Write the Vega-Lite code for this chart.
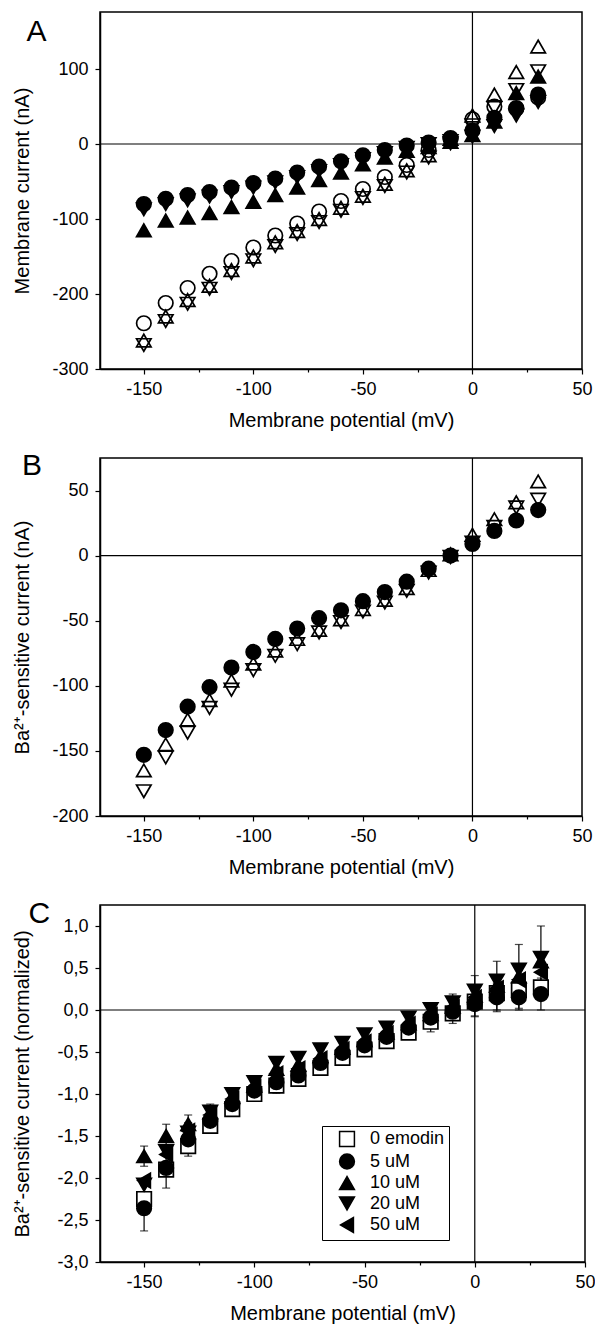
{
  "$schema": "https://vega.github.io/schema/vega-lite/v6.json",
  "padding": {"left": 12, "top": 10, "right": 0, "bottom": 0},
  "spacing": 19,
  "resolve": {"scale": {"shape": "independent", "fill": "independent"}, "legend": {"shape": "independent", "fill": "independent"}},
  "config": {
    "font": "Liberation Sans",
    "view": {"stroke": "black", "strokeWidth": 1.5},
    "axis": {"labelFontSize": 18, "titleFontSize": 20, "titleFontWeight": "normal", "labelColor": "black", "titleColor": "black", "tickColor": "black", "domainColor": "black", "domainWidth": 1.5, "tickWidth": 1.2, "grid": false},
    "axisX": {"labelPadding": 6, "titlePadding": 12, "labelFlush": false},
    "axisY": {"labelPadding": 7, "titlePadding": 19, "labelFlush": false}
  },
  "vconcat": [
    {
      "width": 482, "height": 357,
      "layer": [
        {"data": {"values": [{"y0": 0}]}, "mark": {"type": "rule", "color": "black", "strokeWidth": 1.2}, "encoding": {"y": {"field": "y0", "type": "quantitative"}}},
        {"data": {"values": [{"x0": 0}]}, "mark": {"type": "rule", "color": "black", "strokeWidth": 1.2}, "encoding": {"x": {"field": "x0", "type": "quantitative"}}},
        {"data": {"values": [{"panel": "A", "px": -199, "py": 137}]}, "mark": {"type": "text", "font": "Liberation Sans", "fontSize": 30, "fontWeight": "normal", "fill": "black", "align": "center", "baseline": "alphabetic"}, "encoding": {"x": {"field": "px", "type": "quantitative"}, "y": {"field": "py", "type": "quantitative"}, "text": {"field": "panel"}}},
        {
          "data": {"values": [
            {"V":-150,"s":"oc","I":-239},{"V":-140,"s":"oc","I":-212},{"V":-130,"s":"oc","I":-192},{"V":-120,"s":"oc","I":-173},{"V":-110,"s":"oc","I":-156},{"V":-100,"s":"oc","I":-138},{"V":-90,"s":"oc","I":-122},{"V":-80,"s":"oc","I":-106},{"V":-70,"s":"oc","I":-90},{"V":-60,"s":"oc","I":-76},{"V":-50,"s":"oc","I":-60},{"V":-40,"s":"oc","I":-44},{"V":-30,"s":"oc","I":-28},{"V":-20,"s":"oc","I":-8},{"V":-10,"s":"oc","I":8},{"V":0,"s":"oc","I":33},{"V":10,"s":"oc","I":50},{"V":20,"s":"oc","I":48},{"V":30,"s":"oc","I":62},
            {"V":-150,"s":"ou","I":-262},{"V":-140,"s":"ou","I":-230},{"V":-130,"s":"ou","I":-208},{"V":-120,"s":"ou","I":-189},{"V":-110,"s":"ou","I":-168},{"V":-100,"s":"ou","I":-150},{"V":-90,"s":"ou","I":-131},{"V":-80,"s":"ou","I":-116},{"V":-70,"s":"ou","I":-100},{"V":-60,"s":"ou","I":-85},{"V":-50,"s":"ou","I":-69},{"V":-40,"s":"ou","I":-53},{"V":-30,"s":"ou","I":-35},{"V":-20,"s":"ou","I":-15},{"V":-10,"s":"ou","I":7},{"V":0,"s":"ou","I":38},{"V":10,"s":"ou","I":66},{"V":20,"s":"ou","I":96},{"V":30,"s":"ou","I":130},
            {"V":-150,"s":"od","I":-268},{"V":-140,"s":"od","I":-236},{"V":-130,"s":"od","I":-213},{"V":-120,"s":"od","I":-193},{"V":-110,"s":"od","I":-172},{"V":-100,"s":"od","I":-155},{"V":-90,"s":"od","I":-136},{"V":-80,"s":"od","I":-120},{"V":-70,"s":"od","I":-104},{"V":-60,"s":"od","I":-89},{"V":-50,"s":"od","I":-72},{"V":-40,"s":"od","I":-56},{"V":-30,"s":"od","I":-38},{"V":-20,"s":"od","I":-18},{"V":-10,"s":"od","I":4},{"V":0,"s":"od","I":25},{"V":10,"s":"od","I":48},{"V":20,"s":"od","I":72},{"V":30,"s":"od","I":97},
            {"V":-150,"s":"fu","I":-115},{"V":-140,"s":"fu","I":-102},{"V":-130,"s":"fu","I":-98},{"V":-120,"s":"fu","I":-92},{"V":-110,"s":"fu","I":-84},{"V":-100,"s":"fu","I":-77},{"V":-90,"s":"fu","I":-68},{"V":-80,"s":"fu","I":-58},{"V":-70,"s":"fu","I":-48},{"V":-60,"s":"fu","I":-38},{"V":-50,"s":"fu","I":-27},{"V":-40,"s":"fu","I":-18},{"V":-30,"s":"fu","I":-9},{"V":-20,"s":"fu","I":-4},{"V":-10,"s":"fu","I":3},{"V":0,"s":"fu","I":12},{"V":10,"s":"fu","I":30},{"V":20,"s":"fu","I":68},{"V":30,"s":"fu","I":90},
            {"V":-150,"s":"fd","I":-87},{"V":-140,"s":"fd","I":-80},{"V":-130,"s":"fd","I":-75},{"V":-120,"s":"fd","I":-70},{"V":-110,"s":"fd","I":-64},{"V":-100,"s":"fd","I":-58},{"V":-90,"s":"fd","I":-51},{"V":-80,"s":"fd","I":-44},{"V":-70,"s":"fd","I":-36},{"V":-60,"s":"fd","I":-28},{"V":-50,"s":"fd","I":-20},{"V":-40,"s":"fd","I":-12},{"V":-30,"s":"fd","I":-5},{"V":-20,"s":"fd","I":0},{"V":-10,"s":"fd","I":1},{"V":0,"s":"fd","I":10},{"V":10,"s":"fd","I":24},{"V":20,"s":"fd","I":38},{"V":30,"s":"fd","I":56},
            {"V":-150,"s":"fc","I":-80},{"V":-140,"s":"fc","I":-73},{"V":-130,"s":"fc","I":-68},{"V":-120,"s":"fc","I":-64},{"V":-110,"s":"fc","I":-58},{"V":-100,"s":"fc","I":-52},{"V":-90,"s":"fc","I":-46},{"V":-80,"s":"fc","I":-38},{"V":-70,"s":"fc","I":-30},{"V":-60,"s":"fc","I":-23},{"V":-50,"s":"fc","I":-15},{"V":-40,"s":"fc","I":-8},{"V":-30,"s":"fc","I":-2},{"V":-20,"s":"fc","I":2},{"V":-10,"s":"fc","I":7},{"V":0,"s":"fc","I":18},{"V":10,"s":"fc","I":35},{"V":20,"s":"fc","I":47},{"V":30,"s":"fc","I":66}
          ]},
          "mark": {"type": "point", "filled": true, "size": 210, "stroke": "black", "strokeWidth": 1.7, "opacity": 1},
          "encoding": {
            "x": {"field": "V", "type": "quantitative", "title": "Membrane potential (mV)", "scale": {"domain": [-170, 50], "nice": false, "zero": false},
              "axis": {"values": [-150,-125,-100,-75,-50,-25,0,25,50], "labelExpr": "datum.value % 50 === 0 ? '' + datum.value : ''", "tickSize": {"condition": {"test": "datum.value % 50 !== 0", "value": 3}, "value": 5}}},
            "y": {"field": "I", "type": "quantitative", "title": "Membrane current (nA)", "scale": {"domain": [-300, 176], "nice": false, "zero": false},
              "axis": {"values": [-300,-275,-250,-225,-200,-175,-150,-125,-100,-75,-50,-25,0,25,50,75,100,125,150], "labelExpr": "datum.value % 50 === 0 ? '' + datum.value : ''", "tickSize": {"condition": {"test": "datum.value % 50 !== 0", "value": 3}, "value": 5}}},
            "shape": {"field": "s", "type": "nominal", "scale": {"domain": ["oc","ou","od","fc","fu","fd"], "range": ["circle","triangle-up","triangle-down","circle","triangle-up","triangle-down"]}, "legend": null},
            "fill": {"field": "s", "type": "nominal", "scale": {"domain": ["oc","ou","od","fc","fu","fd"], "range": ["transparent","transparent","transparent","black","black","black"]}, "legend": null}
          }
        }
      ]
    },
    {
      "width": 482, "height": 358,
      "layer": [
        {"data": {"values": [{"y0": 0}]}, "mark": {"type": "rule", "color": "black", "strokeWidth": 1.2}, "encoding": {"y": {"field": "y0", "type": "quantitative"}}},
        {"data": {"values": [{"x0": 0}]}, "mark": {"type": "rule", "color": "black", "strokeWidth": 1.2}, "encoding": {"x": {"field": "x0", "type": "quantitative"}}},
        {"data": {"values": [{"panel": "B", "px": -201, "py": 62}]}, "mark": {"type": "text", "font": "Liberation Sans", "fontSize": 30, "fontWeight": "normal", "fill": "black", "align": "center", "baseline": "alphabetic"}, "encoding": {"x": {"field": "px", "type": "quantitative"}, "y": {"field": "py", "type": "quantitative"}, "text": {"field": "panel"}}},
        {
          "data": {"values": [
            {"V":-150,"s":"ou","I":-165},{"V":-140,"s":"ou","I":-145},{"V":-130,"s":"ou","I":-126},{"V":-120,"s":"ou","I":-111},{"V":-110,"s":"ou","I":-96},{"V":-100,"s":"ou","I":-83},{"V":-90,"s":"ou","I":-73},{"V":-80,"s":"ou","I":-64},{"V":-70,"s":"ou","I":-57},{"V":-60,"s":"ou","I":-49},{"V":-50,"s":"ou","I":-41},{"V":-40,"s":"ou","I":-34},{"V":-30,"s":"ou","I":-25},{"V":-20,"s":"ou","I":-11},{"V":-10,"s":"ou","I":1},{"V":0,"s":"ou","I":16},{"V":10,"s":"ou","I":28},{"V":20,"s":"ou","I":41},{"V":30,"s":"ou","I":57},
            {"V":-150,"s":"od","I":-181},{"V":-140,"s":"od","I":-155},{"V":-130,"s":"od","I":-136},{"V":-120,"s":"od","I":-117},{"V":-110,"s":"od","I":-103},{"V":-100,"s":"od","I":-88},{"V":-90,"s":"od","I":-77},{"V":-80,"s":"od","I":-68},{"V":-70,"s":"od","I":-59},{"V":-60,"s":"od","I":-51},{"V":-50,"s":"od","I":-43},{"V":-40,"s":"od","I":-36},{"V":-30,"s":"od","I":-27},{"V":-20,"s":"od","I":-13},{"V":-10,"s":"od","I":-1},{"V":0,"s":"od","I":10},{"V":10,"s":"od","I":22},{"V":20,"s":"od","I":37},{"V":30,"s":"od","I":43},
            {"V":-150,"s":"fc","I":-153},{"V":-140,"s":"fc","I":-134},{"V":-130,"s":"fc","I":-116},{"V":-120,"s":"fc","I":-101},{"V":-110,"s":"fc","I":-86},{"V":-100,"s":"fc","I":-74},{"V":-90,"s":"fc","I":-64},{"V":-80,"s":"fc","I":-56},{"V":-70,"s":"fc","I":-48},{"V":-60,"s":"fc","I":-42},{"V":-50,"s":"fc","I":-35},{"V":-40,"s":"fc","I":-28},{"V":-30,"s":"fc","I":-20},{"V":-20,"s":"fc","I":-10},{"V":-10,"s":"fc","I":0},{"V":0,"s":"fc","I":9},{"V":10,"s":"fc","I":19},{"V":20,"s":"fc","I":27},{"V":30,"s":"fc","I":35}
          ]},
          "mark": {"type": "point", "filled": true, "size": 210, "stroke": "black", "strokeWidth": 1.7, "opacity": 1},
          "encoding": {
            "x": {"field": "V", "type": "quantitative", "title": "Membrane potential (mV)", "scale": {"domain": [-170, 50], "nice": false, "zero": false},
              "axis": {"values": [-150,-125,-100,-75,-50,-25,0,25,50], "labelExpr": "datum.value % 50 === 0 ? '' + datum.value : ''", "tickSize": {"condition": {"test": "datum.value % 50 !== 0", "value": 3}, "value": 5}}},
            "y": {"field": "I", "type": "quantitative", "title": "Ba²⁺-sensitive current (nA)", "scale": {"domain": [-200, 75], "nice": false, "zero": false},
              "axis": {"values": [-200,-175,-150,-125,-100,-75,-50,-25,0,25,50], "labelExpr": "datum.value % 50 === 0 ? '' + datum.value : ''", "tickSize": {"condition": {"test": "datum.value % 50 !== 0", "value": 3}, "value": 5}}},
            "shape": {"field": "s", "type": "nominal", "scale": {"domain": ["ou","od","fc"], "range": ["triangle-up","triangle-down","circle"]}, "legend": null},
            "fill": {"field": "s", "type": "nominal", "scale": {"domain": ["ou","od","fc"], "range": ["transparent","transparent","black"]}, "legend": null}
          }
        }
      ]
    },
    {
      "width": 485, "height": 357,
      "layer": [
        {"data": {"values": [{"y0": 0}]}, "mark": {"type": "rule", "color": "black", "strokeWidth": 1.2}, "encoding": {"y": {"field": "y0", "type": "quantitative"}}},
        {"data": {"values": [{"x0": 0}]}, "mark": {"type": "rule", "color": "black", "strokeWidth": 1.2}, "encoding": {"x": {"field": "x0", "type": "quantitative"}}},
        {"data": {"values": [{"panel": "C", "px": -197.5, "py": 1.04}]}, "mark": {"type": "text", "font": "Liberation Sans", "fontSize": 30, "fontWeight": "normal", "fill": "black", "align": "center", "baseline": "alphabetic"}, "encoding": {"x": {"field": "px", "type": "quantitative"}, "y": {"field": "py", "type": "quantitative"}, "text": {"field": "panel"}}},
        {
          "data": {"values": [
            {"V":-150,"c":"5 uM","I":-2.36,"sd":0.27},{"V":-140,"c":"5 uM","I":-1.88,"sd":0.24},{"V":-130,"c":"5 uM","I":-1.54,"sd":0.2},{"V":-120,"c":"5 uM","I":-1.32,"sd":0.12},{"V":-110,"c":"5 uM","I":-1.12,"sd":0.1},{"V":-100,"c":"5 uM","I":-0.96,"sd":0.12},{"V":-90,"c":"5 uM","I":-0.86,"sd":0.13},{"V":-80,"c":"5 uM","I":-0.78,"sd":0.1},{"V":-70,"c":"5 uM","I":-0.63,"sd":0.08},{"V":-60,"c":"5 uM","I":-0.51,"sd":0.08},{"V":-50,"c":"5 uM","I":-0.42,"sd":0.08},{"V":-40,"c":"5 uM","I":-0.32,"sd":0.08},{"V":-30,"c":"5 uM","I":-0.21,"sd":0.09},{"V":-20,"c":"5 uM","I":-0.09,"sd":0.17},{"V":-10,"c":"5 uM","I":-0.02,"sd":0.14},{"V":0,"c":"5 uM","I":0.07,"sd":0.15},{"V":10,"c":"5 uM","I":0.15,"sd":0.17},{"V":20,"c":"5 uM","I":0.15,"sd":0.15},{"V":30,"c":"5 uM","I":0.19,"sd":0.19},
            {"V":-150,"c":"10 uM","I":-1.74,"sd":0.12},{"V":-140,"c":"10 uM","I":-1.50,"sd":0.14},{"V":-130,"c":"10 uM","I":-1.36,"sd":0.11},{"V":-120,"c":"10 uM","I":-1.22,"sd":0.1},{"V":-110,"c":"10 uM","I":-1.03,"sd":0.08},{"V":-100,"c":"10 uM","I":-0.90,"sd":0.07},{"V":-90,"c":"10 uM","I":-0.70,"sd":0.07},{"V":-80,"c":"10 uM","I":-0.65,"sd":0.07},{"V":-70,"c":"10 uM","I":-0.55,"sd":0.07},{"V":-60,"c":"10 uM","I":-0.45,"sd":0.07},{"V":-50,"c":"10 uM","I":-0.36,"sd":0.08},{"V":-40,"c":"10 uM","I":-0.27,"sd":0.09},{"V":-30,"c":"10 uM","I":-0.16,"sd":0.1},{"V":-20,"c":"10 uM","I":-0.05,"sd":0.12},{"V":-10,"c":"10 uM","I":0.04,"sd":0.15},{"V":0,"c":"10 uM","I":0.17,"sd":0.24},{"V":10,"c":"10 uM","I":0.29,"sd":0.29},{"V":20,"c":"10 uM","I":0.40,"sd":0.38},{"V":30,"c":"10 uM","I":0.58,"sd":0.42}
          ]},
          "mark": {"type": "errorbar", "ticks": {"size": 8, "color": "black", "strokeWidth": 1.2}, "color": "black", "thickness": 1.2},
          "encoding": {
            "x": {"field": "V", "type": "quantitative", "title": "Membrane potential (mV)"},
            "y": {"field": "I", "type": "quantitative", "title": "Ba²⁺-sensitive current (normalized)"},
            "yError": {"field": "sd"}
          }
        },
        {
          "data": {"values": [
            {"V":-150,"c":"0 emodin","I":-2.25},{"V":-140,"c":"0 emodin","I":-1.90},{"V":-130,"c":"0 emodin","I":-1.62},{"V":-120,"c":"0 emodin","I":-1.38},{"V":-110,"c":"0 emodin","I":-1.18},{"V":-100,"c":"0 emodin","I":-1.00},{"V":-90,"c":"0 emodin","I":-0.90},{"V":-80,"c":"0 emodin","I":-0.82},{"V":-70,"c":"0 emodin","I":-0.69},{"V":-60,"c":"0 emodin","I":-0.57},{"V":-50,"c":"0 emodin","I":-0.47},{"V":-40,"c":"0 emodin","I":-0.37},{"V":-30,"c":"0 emodin","I":-0.27},{"V":-20,"c":"0 emodin","I":-0.14},{"V":-10,"c":"0 emodin","I":-0.04},{"V":0,"c":"0 emodin","I":0.10},{"V":10,"c":"0 emodin","I":0.20},{"V":20,"c":"0 emodin","I":0.24},{"V":30,"c":"0 emodin","I":0.27},
            {"V":-150,"c":"5 uM","I":-2.36},{"V":-140,"c":"5 uM","I":-1.88},{"V":-130,"c":"5 uM","I":-1.54},{"V":-120,"c":"5 uM","I":-1.32},{"V":-110,"c":"5 uM","I":-1.12},{"V":-100,"c":"5 uM","I":-0.96},{"V":-90,"c":"5 uM","I":-0.86},{"V":-80,"c":"5 uM","I":-0.78},{"V":-70,"c":"5 uM","I":-0.63},{"V":-60,"c":"5 uM","I":-0.51},{"V":-50,"c":"5 uM","I":-0.42},{"V":-40,"c":"5 uM","I":-0.32},{"V":-30,"c":"5 uM","I":-0.21},{"V":-20,"c":"5 uM","I":-0.09},{"V":-10,"c":"5 uM","I":-0.02},{"V":0,"c":"5 uM","I":0.07},{"V":10,"c":"5 uM","I":0.15},{"V":20,"c":"5 uM","I":0.15},{"V":30,"c":"5 uM","I":0.19},
            {"V":-150,"c":"10 uM","I":-1.74},{"V":-140,"c":"10 uM","I":-1.50},{"V":-130,"c":"10 uM","I":-1.36},{"V":-120,"c":"10 uM","I":-1.22},{"V":-110,"c":"10 uM","I":-1.03},{"V":-100,"c":"10 uM","I":-0.90},{"V":-90,"c":"10 uM","I":-0.70},{"V":-80,"c":"10 uM","I":-0.65},{"V":-70,"c":"10 uM","I":-0.55},{"V":-60,"c":"10 uM","I":-0.45},{"V":-50,"c":"10 uM","I":-0.36},{"V":-40,"c":"10 uM","I":-0.27},{"V":-30,"c":"10 uM","I":-0.16},{"V":-20,"c":"10 uM","I":-0.05},{"V":-10,"c":"10 uM","I":0.04},{"V":0,"c":"10 uM","I":0.17},{"V":10,"c":"10 uM","I":0.29},{"V":20,"c":"10 uM","I":0.40},{"V":30,"c":"10 uM","I":0.58},
            {"V":-150,"c":"20 uM","I":-2.08},{"V":-140,"c":"20 uM","I":-1.68},{"V":-130,"c":"20 uM","I":-1.46},{"V":-120,"c":"20 uM","I":-1.21},{"V":-110,"c":"20 uM","I":-1.00},{"V":-100,"c":"20 uM","I":-0.86},{"V":-90,"c":"20 uM","I":-0.63},{"V":-80,"c":"20 uM","I":-0.57},{"V":-70,"c":"20 uM","I":-0.47},{"V":-60,"c":"20 uM","I":-0.39},{"V":-50,"c":"20 uM","I":-0.29},{"V":-40,"c":"20 uM","I":-0.21},{"V":-30,"c":"20 uM","I":-0.09},{"V":-20,"c":"20 uM","I":0.01},{"V":-10,"c":"20 uM","I":0.09},{"V":0,"c":"20 uM","I":0.23},{"V":10,"c":"20 uM","I":0.35},{"V":20,"c":"20 uM","I":0.48},{"V":30,"c":"20 uM","I":0.62},
            {"V":-150,"c":"50 uM","I":-2.03},{"V":-140,"c":"50 uM","I":-1.72},{"V":-130,"c":"50 uM","I":-1.44},{"V":-120,"c":"50 uM","I":-1.25},{"V":-110,"c":"50 uM","I":-1.06},{"V":-100,"c":"50 uM","I":-0.92},{"V":-90,"c":"50 uM","I":-0.76},{"V":-80,"c":"50 uM","I":-0.70},{"V":-70,"c":"50 uM","I":-0.58},{"V":-60,"c":"50 uM","I":-0.47},{"V":-50,"c":"50 uM","I":-0.38},{"V":-40,"c":"50 uM","I":-0.28},{"V":-30,"c":"50 uM","I":-0.17},{"V":-20,"c":"50 uM","I":-0.06},{"V":-10,"c":"50 uM","I":0.03},{"V":0,"c":"50 uM","I":0.15},{"V":10,"c":"50 uM","I":0.26},{"V":20,"c":"50 uM","I":0.36},{"V":30,"c":"50 uM","I":0.45}
          ]},
          "mark": {"type": "point", "filled": true, "size": 210, "stroke": "black", "strokeWidth": 1.7, "opacity": 1},
          "encoding": {
            "x": {"field": "V", "type": "quantitative", "title": "Membrane potential (mV)", "scale": {"domain": [-170, 50], "nice": false, "zero": false},
              "axis": {"values": [-150,-125,-100,-75,-50,-25,0,25,50], "labelExpr": "datum.value % 50 === 0 ? '' + datum.value : ''", "tickSize": {"condition": {"test": "datum.value % 50 !== 0", "value": 3}, "value": 5}}},
            "y": {"field": "I", "type": "quantitative", "title": "Ba²⁺-sensitive current (normalized)", "scale": {"domain": [-3, 1.25], "nice": false, "zero": false},
              "axis": {"titlePadding": 24, "values": [-3,-2.75,-2.5,-2.25,-2,-1.75,-1.5,-1.25,-1,-0.75,-0.5,-0.25,0,0.25,0.5,0.75,1], "labelExpr": "datum.value % 0.5 === 0 ? (datum.value < 0 ? '-' : '') + replace(format(abs(datum.value), '.1f'), '.', ',') : ''", "tickSize": {"condition": {"test": "datum.value % 0.5 !== 0", "value": 3}, "value": 5}}},
            "shape": {"field": "c", "type": "nominal", "scale": {"domain": ["0 emodin","5 uM","10 uM","20 uM","50 uM"], "range": ["square","circle","triangle-up","triangle-down","triangle-left"]},
              "legend": {"title": null, "orient": "none", "legendX": 222, "legendY": 221, "labelFontSize": 18, "labelColor": "black", "strokeColor": "black", "padding": 4, "symbolSize": 220, "rowPadding": 0.5, "symbolOffset": 12, "labelOffset": 14,
                "encode": {"symbols": {"update": {"stroke": {"value": "black"}, "strokeWidth": {"value": 1.7}}}}}},
            "fill": {"field": "c", "type": "nominal", "scale": {"domain": ["0 emodin","5 uM","10 uM","20 uM","50 uM"], "range": ["white","black","black","black","black"]},
              "legend": {"title": null, "orient": "none", "legendX": 222, "legendY": 221, "labelFontSize": 18, "labelColor": "black", "strokeColor": "black", "padding": 4, "symbolSize": 220, "rowPadding": 0.5, "symbolOffset": 12, "labelOffset": 14,
                "encode": {"symbols": {"update": {"stroke": {"value": "black"}, "strokeWidth": {"value": 1.7}}}}}}
          }
        }
      ]
    }
  ]
}
